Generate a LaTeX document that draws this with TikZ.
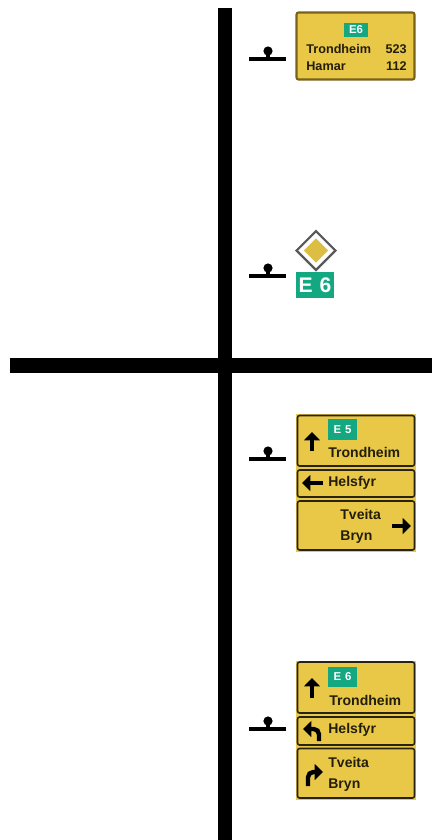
\documentclass[tikz,border=0pt]{standalone}
\usepackage{fontspec}
\setmainfont{Liberation Sans}
\usetikzlibrary{shapes.geometric,arrows.meta}
\definecolor{signy}{RGB}{233,200,72}
\definecolor{signe}{RGB}{40,34,16}
\definecolor{signo}{RGB}{120,98,24}
\definecolor{gsign}{RGB}{20,168,130}
\tikzset{
  road/.style={fill=black,draw=none},
  back/.style={fill=signy,draw=none},
  panel/.style={draw=signe,line width=0.9pt,rounded corners=1.2pt},
  panelo/.style={fill=signy,draw=signo,line width=1.2pt,rounded corners=1.2pt},
  lab/.style={font=\bfseries\fontsize{8}{9}\selectfont,text=black!85!signy,inner sep=0pt,anchor=west},
  labs/.style={lab,font=\bfseries\fontsize{7.2}{9}\selectfont},
  labr/.style={labs,anchor=east},
  green/.style={fill=gsign,draw=none},
  route/.style={font=\bfseries\fontsize{6.5}{7}\selectfont,text=white,inner sep=0pt},
  routeb/.style={font=\bfseries\fontsize{12}{13}\selectfont,text=white,inner sep=0pt},
  arr/.style={draw=black,line width=2.5pt,-{Triangle[length=4.8pt,width=9pt]}},
}
\newcommand{\marker}[2]{%
  \fill[black] (249,#2) rectangle (286,#2+4);
  \fill[black] (268,#2-6) circle[radius=4.6];
  \fill[black] (268-2,#2-4) rectangle (268+2,#2+1);
}
\begin{document}
\begin{tikzpicture}[x=0.02cm,y=-0.02cm]
\useasboundingbox (0,0) rectangle (432,840);
\fill[road] (218,8) rectangle (232,840);
\fill[road] (10,358) rectangle (432,373);
% markers
\marker{268}{57}
\marker{268}{274}
\marker{268}{457}
\marker{268}{727}
% sign 1
\draw[panelo] (296.5,12.5) rectangle (414.5,79.5);
\fill[green] (344,23) rectangle (368,37);
\node[route] (s1r) at (356,30) {E6};
\node[labs] (s1a) at (306,49) {Trondheim};
\node[labr] (s1b) at (407,49) {523};
\node[labs] (s1c) at (306,66) {Hamar};
\node[labr] (s1d) at (407,66) {112};
% sign 2
\node[diamond,draw=black!65,fill=white,line width=1.3pt,inner sep=0pt,minimum width=22.6pt,minimum height=22.6pt] (d1) at (316,250.5) {};
\node[diamond,fill=signy!95!black,inner sep=0pt,minimum width=14pt,minimum height=14pt] (d2) at (316,250.5) {};
\fill[green] (296,272) rectangle (334,298);
\node[routeb] (s2r) at (315,285) {E\,\,6};
% sign 3
\fill[back] (296,414) rectangle (416,552);
\draw[panel] (297.5,415.5) rectangle (414.5,466);
\draw[panel] (297.5,470) rectangle (414.5,497);
\draw[panel] (297.5,501) rectangle (414.5,550);
\fill[green] (328,419) rectangle (357,440);
\node[route] (s3r) at (342.5,429.5) {E\,\,5};
\coordinate (a1s) at (312,451);
\coordinate (a1e) at (312,432);
\draw[arr] (a1s) -- (a1e);
\node[lab] (s3a) at (328,452) {Trondheim};
\coordinate (a2s) at (323,483);
\coordinate (a2e) at (302,483);
\draw[arr] (a2s) -- (a2e);
\node[lab] (s3b) at (328,483) {Helsfyr};
\node[lab] (s3c) at (340,514) {Tveita};
\node[lab] (s3d) at (340,537) {Bryn};
\coordinate (a3s) at (392,526);
\coordinate (a3e) at (411,526);
\draw[arr] (a3s) -- (a3e);
% sign 4
\fill[back] (296,661) rectangle (416,799.5);
\draw[panel] (297.5,662) rectangle (414.5,713);
\draw[panel] (297.5,717) rectangle (414.5,745);
\draw[panel] (297.5,748.5) rectangle (414.5,798);
\fill[green] (328,667) rectangle (357,687);
\node[route] (s4r) at (342.5,677) {E\,\,6};
\coordinate (b1s) at (312,698);
\coordinate (b1e) at (312,678);
\draw[arr] (b1s) -- (b1e);
\node[lab] (s4a) at (329,700) {Trondheim};
\coordinate (b2s) at (319,741);
\coordinate (b2e) at (303,729);
\draw[arr,rounded corners=3pt] (b2s) -- (319,729) -- (b2e);
\node[lab] (s4b) at (328,730) {Helsfyr};
\node[lab] (s4c) at (328,762) {Tveita};
\node[lab] (s4d) at (328,785) {Bryn};
\coordinate (b3s) at (308,786);
\coordinate (b3e) at (323,772);
\draw[arr,rounded corners=3pt] (b3s) -- (308,772) -- (b3e);
\end{tikzpicture}
\end{document}
